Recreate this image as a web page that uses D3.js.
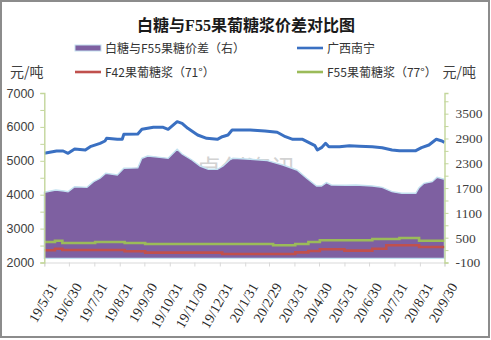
<!DOCTYPE html>
<html>
<head>
<meta charset="utf-8">
<script src="https://cdn.jsdelivr.net/npm/d3@7"></script>
<style>
  html, body { margin: 0; padding: 0; background: #fff; }
  svg { display: block; }
</style>
</head>
<body>
<svg id="chart" width="491" height="340"></svg>
<script>
// ---- data ----
const monthEnds = ["2019-05-31","2019-06-30","2019-07-31","2019-08-31","2019-09-30","2019-10-31","2019-11-30","2019-12-31","2020-01-31","2020-02-29","2020-03-31","2020-04-30","2020-05-31","2020-06-30","2020-07-31","2020-08-31","2020-09-30"];
const monthLabels = ["19/5/31","19/6/30","19/7/31","19/8/31","19/9/30","19/10/31","19/11/30","19/12/31","20/1/31","20/2/29","20/3/31","20/4/30","20/5/31","20/6/30","20/7/31","20/8/31","20/9/30"];

const leftTicks = [2000, 3000, 4000, 5000, 6000, 7000];
const rightTicks = [-100, 500, 1100, 1700, 2300, 2900, 3500];

// 广西南宁 白糖 (左轴)
const nanningDates = ["2019-05-31","2019-06-15","2019-06-23","2019-06-29","2019-07-07","2019-07-20","2019-07-26","2019-08-07","2019-08-13","2019-08-15","2019-08-28","2019-09-03","2019-09-05","2019-09-22","2019-09-27","2019-10-11","2019-10-23","2019-10-29","2019-11-09","2019-11-15","2019-11-22","2019-12-04","2019-12-15","2019-12-28","2020-01-03","2020-01-10","2020-01-15","2020-02-06","2020-02-24","2020-03-10","2020-03-20","2020-03-29","2020-04-10","2020-04-25","2020-04-28","2020-05-03","2020-05-08","2020-05-12","2020-05-25","2020-06-06","2020-06-18","2020-07-04","2020-07-16","2020-07-28","2020-08-06","2020-08-26","2020-09-02","2020-09-11","2020-09-20","2020-09-26","2020-09-30"];
const nanningValues = [5221,5289,5289,5221,5348,5319,5416,5516,5584,5663,5634,5634,5781,5790,5929,5988,5988,5929,6154,6106,5958,5761,5663,5634,5711,5761,5909,5909,5879,5841,5711,5634,5634,5446,5319,5387,5516,5416,5416,5446,5430,5416,5387,5319,5298,5298,5387,5466,5634,5593,5546];

// 白糖与F55果糖价差 (右轴)
const spreadDates = ["2019-05-31","2019-06-14","2019-06-24","2019-06-29","2019-07-07","2019-07-22","2019-07-30","2019-08-07","2019-08-14","2019-08-28","2019-09-05","2019-09-22","2019-09-27","2019-10-04","2019-10-19","2019-10-29","2019-11-09","2019-11-15","2019-11-27","2019-12-07","2019-12-17","2019-12-28","2020-01-04","2020-01-12","2020-01-16","2020-02-06","2020-02-27","2020-03-17","2020-04-03","2020-04-15","2020-04-27","2020-05-03","2020-05-09","2020-05-15","2020-06-02","2020-06-14","2020-07-04","2020-07-16","2020-07-28","2020-08-09","2020-08-26","2020-08-30","2020-09-05","2020-09-15","2020-09-21","2020-09-30"];
const spreadValues = [1598,1654,1630,1614,1734,1718,1855,1937,2058,2018,2179,2190,2420,2476,2444,2420,2638,2525,2380,2234,2155,2155,2234,2380,2420,2396,2363,2259,2138,1937,1750,1750,1831,1775,1770,1775,1750,1718,1613,1574,1574,1710,1815,1855,1961,1913];

// F55果葡糖浆（77°）(左轴)
const f55Dates = ["2019-05-31","2019-06-13","2019-06-22","2019-08-01","2019-09-06","2019-10-01","2020-03-05","2020-04-01","2020-04-17","2020-05-01","2020-07-04","2020-08-06","2020-08-30","2020-09-30"];
const f55Values = [2605,2643,2575,2605,2575,2546,2507,2546,2605,2655,2693,2723,2643,2643];

// F42果葡糖浆（71°）(左轴)
const f42Dates = ["2019-05-31","2019-06-13","2019-06-22","2019-09-06","2019-10-01","2020-01-03","2020-04-01","2020-04-17","2020-05-01","2020-05-31","2020-07-04","2020-07-21","2020-08-30","2020-09-30"];
const f42Values = [2360,2407,2369,2330,2290,2250,2300,2340,2390,2350,2407,2507,2457,2457];

// ---- drawing ----
const parse = d3.timeParse("%Y-%m-%d");
const zip = (ds, vs) => ds.map((d, i) => ({ date: parse(d), value: vs[i] }));
const nanning = zip(nanningDates, nanningValues);
const spread = zip(spreadDates, spreadValues);
const f55 = zip(f55Dates, f55Values);
const f42 = zip(f42Dates, f42Values);

const svg = d3.select("#chart");
const plot = { left: 44.3, right: 444.5, top: 93, bottom: 262.5 };

const x = d3.scaleTime()
  .domain([parse(monthEnds[0]), parse(monthEnds[monthEnds.length - 1])])
  .range([plot.left, plot.right]);
const yL = d3.scaleLinear().domain([2000, 7000]).range([plot.bottom, plot.top]);
const yR = d3.scaleLinear().domain([-100, 4000]).range([plot.bottom, plot.top]);

const cjk = "'Noto Sans CJK SC', 'Noto Sans', sans-serif";

// outer frame
svg.append("rect")
  .attr("x", 1).attr("y", 1).attr("width", 488).attr("height", 336)
  .attr("fill", "#fff").attr("stroke", "#8c8c8c").attr("stroke-width", 2);

// title
svg.append("text")
  .attr("x", 246).attr("y", 31)
  .attr("text-anchor", "middle")
  .attr("font-family", "'Liberation Serif', 'Noto Sans CJK SC', serif")
  .attr("font-weight", "bold")
  .attr("font-size", 16)
  .attr("fill", "#1a1a1a")
  .text("白糖与F55果葡糖浆价差对比图");

// faint watermark, mostly hidden behind the spread area
svg.append("text")
  .attr("x", 196).attr("y", 178)
  .attr("font-family", cjk)
  .attr("font-size", 25)
  .attr("fill", "#d2d2d2")
  .text("卓创资讯");

// spread area on the right axis
const area = d3.area()
  .x(d => x(d.date))
  .y0(yR(0))
  .y1(d => yR(d.value));
svg.append("path")
  .datum(spread)
  .attr("d", area)
  .attr("fill", "#7e60a1")
  .attr("stroke", "#c3e1f0")
  .attr("stroke-width", 1.4);

// price lines on the left axis
const lineLinear = d3.line().x(d => x(d.date)).y(d => yL(d.value));
const lineStep = d3.line().x(d => x(d.date)).y(d => yL(d.value)).curve(d3.curveStepAfter);

svg.append("path").datum(f55).attr("d", lineStep)
  .attr("fill", "none").attr("stroke", "#9bbb59").attr("stroke-width", 2.6);
svg.append("path").datum(f42).attr("d", lineStep)
  .attr("fill", "none").attr("stroke", "#c0504d").attr("stroke-width", 2.6);
svg.append("path").datum(nanning).attr("d", lineLinear)
  .attr("fill", "none").attr("stroke", "#3a70c2").attr("stroke-width", 3)
  .attr("stroke-linejoin", "round");

// x axis
const monthDates = monthEnds.map(parse);
const xAxis = d3.axisBottom(x)
  .tickValues(monthDates)
  .tickSize(4)
  .tickFormat((d, i) => monthLabels[i]);
const gx = svg.append("g").attr("transform", `translate(0,${plot.bottom})`).call(xAxis);
gx.select(".domain").attr("stroke", "#d9d9d9").attr("stroke-width", 1.2);
gx.selectAll(".tick line").attr("stroke", "#d9d9d9");
gx.selectAll(".tick text")
  .attr("font-family", "'Liberation Serif', serif")
  .attr("font-size", 14)
  .attr("fill", "#262626")
  .attr("text-anchor", "end")
  .attr("dy", null)
  .attr("y", 0)
  .attr("transform", "translate(13,24) rotate(-60)");

// left axis
const leftMinor = d3.range(2000, 7001, 500);
const gl = svg.append("g").attr("transform", `translate(${plot.left},0)`)
  .call(d3.axisLeft(yL).tickValues(leftMinor).tickSize(4)
    .tickFormat(d => leftTicks.includes(d) ? d : ""));
gl.select(".domain").attr("stroke", "#c3d69b").attr("stroke-width", 1.4);
gl.selectAll(".tick line").attr("stroke", "#c3d69b");
gl.selectAll(".tick text")
  .attr("font-family", "'Liberation Sans', Arial, sans-serif")
  .attr("font-size", 12.5)
  .attr("fill", "#404040")
  .attr("x", -10);

// right axis
const rightMinor = d3.range(-100, 4001, 300);
const gr = svg.append("g").attr("transform", `translate(${plot.right},0)`)
  .call(d3.axisRight(yR).tickValues(rightMinor).tickSize(4)
    .tickFormat(d => rightTicks.includes(d) ? d : ""));
gr.select(".domain").attr("stroke", "#c3d69b").attr("stroke-width", 1.4);
gr.selectAll(".tick line").attr("stroke", "#c3d69b");
gr.selectAll(".tick text")
  .attr("font-family", "'Liberation Serif', serif")
  .attr("font-size", 13.5)
  .attr("fill", "#404040")
  .attr("x", 11);

// axis unit labels
svg.append("text").attr("x", 10).attr("y", 77)
  .attr("font-family", cjk).attr("font-size", 14).attr("fill", "#404040")
  .text("元/吨");
svg.append("text").attr("x", 476).attr("y", 77).attr("text-anchor", "end")
  .attr("font-family", cjk).attr("font-size", 14).attr("fill", "#404040")
  .text("元/吨");

// legend
const legendItems = [
  { label: "白糖与F55果糖价差（右）", color: "#7e60a1", kind: "area", x: 75, y: 48 },
  { label: "广西南宁", color: "#3a70c2", kind: "line", x: 297, y: 48 },
  { label: "F42果葡糖浆（71°）", color: "#c0504d", kind: "line", x: 75, y: 72 },
  { label: "F55果葡糖浆（77°）", color: "#9bbb59", kind: "line", x: 297, y: 72 }
];
const lg = svg.append("g");
legendItems.forEach(it => {
  if (it.kind === "area") {
    lg.append("rect").attr("x", it.x).attr("y", it.y - 3).attr("width", 26).attr("height", 6)
      .attr("fill", it.color).attr("stroke", "#c3e1f0").attr("stroke-width", 1);
  } else {
    lg.append("line").attr("x1", it.x).attr("x2", it.x + 26)
      .attr("y1", it.y).attr("y2", it.y)
      .attr("stroke", it.color).attr("stroke-width", 2.6);
  }
  lg.append("text").attr("x", it.x + 30).attr("y", it.y + 4.5)
    .attr("font-family", cjk).attr("font-size", 12).attr("fill", "#333")
    .text(it.label);
});
</script>
</body>
</html>
